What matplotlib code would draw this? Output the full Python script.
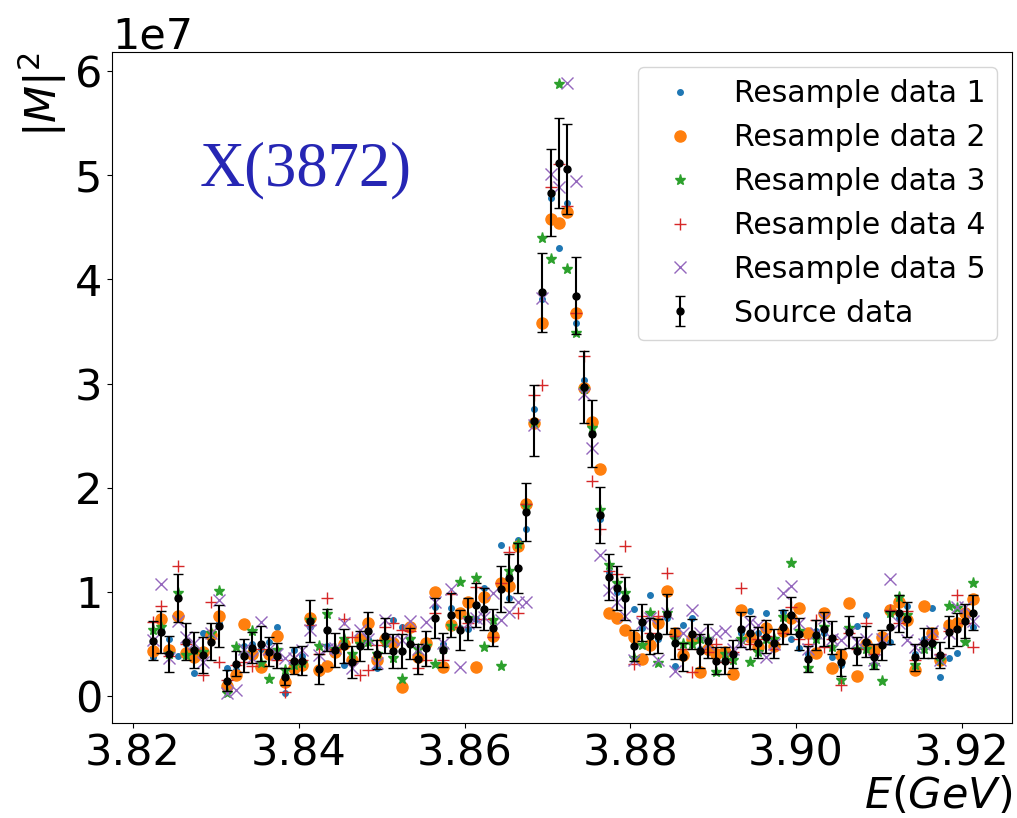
import matplotlib
matplotlib.use("Agg")
import matplotlib.pyplot as plt
import numpy as np

# energy bins (GeV): 100 bins, 1 MeV apart
E_START = 3.8224
E_STEP = 0.001
energy = np.round(E_START + E_STEP * np.arange(100), 4)

# |M|^2 values in units of 1e7
source = [
    0.531, 0.611, 0.403, 0.937, 0.521, 0.441, 0.393, 0.521, 0.672, 0.147,
    0.307, 0.387, 0.464, 0.502, 0.425, 0.384, 0.186, 0.339, 0.339, 0.720,
    0.259, 0.633, 0.441, 0.480, 0.326, 0.480, 0.627, 0.400, 0.579, 0.432,
    0.432, 0.502, 0.355, 0.457, 0.746, 0.440, 0.777, 0.633, 0.736, 0.870,
    0.832, 0.656, 1.030, 1.129, 1.228, 1.769, 2.642, 3.877, 4.834, 5.115,
    5.061, 3.845, 2.969, 2.520, 1.734, 1.139, 1.040, 0.937, 0.483, 0.707,
    0.576, 0.576, 0.787, 0.505, 0.377, 0.595, 0.432, 0.528, 0.339, 0.339,
    0.400, 0.640, 0.608, 0.512, 0.569, 0.505, 0.659, 0.774, 0.595, 0.355,
    0.585, 0.643, 0.560, 0.323, 0.611, 0.432, 0.521, 0.377, 0.489, 0.659,
    0.794, 0.736, 0.371, 0.505, 0.505, 0.393, 0.611, 0.640, 0.720, 0.800,
]
source_err = [
    0.19, 0.20, 0.17, 0.23, 0.18, 0.17, 0.17, 0.18, 0.20, 0.10,
    0.12, 0.16, 0.15, 0.17, 0.14, 0.12, 0.08, 0.13, 0.14, 0.20,
    0.14, 0.20, 0.16, 0.16, 0.15, 0.14, 0.18, 0.14, 0.17, 0.16,
    0.16, 0.15, 0.14, 0.17, 0.19, 0.16, 0.21, 0.19, 0.20, 0.21,
    0.20, 0.18, 0.22, 0.23, 0.24, 0.28, 0.34, 0.38, 0.42, 0.43,
    0.43, 0.37, 0.345, 0.32, 0.27, 0.22, 0.21, 0.21, 0.15, 0.18,
    0.17, 0.165, 0.19, 0.15, 0.135, 0.146, 0.16, 0.16, 0.13, 0.13,
    0.135, 0.167, 0.157, 0.146, 0.16, 0.136, 0.163, 0.176, 0.155, 0.123,
    0.147, 0.16, 0.16, 0.128, 0.155, 0.136, 0.147, 0.12, 0.144, 0.16,
    0.176, 0.168, 0.128, 0.144, 0.144, 0.128, 0.152, 0.157, 0.163, 0.166,
]

resample1 = [
    0.377, 0.640, 0.544, 0.387, 0.500, 0.218, 0.600, 0.550, 0.700, 0.272,
    0.250, 0.480, 0.500, 0.450, 0.521, 0.659, 0.030, 0.441, 0.380, 0.660,
    0.218, 0.480, 0.420, 0.298, 0.360, 0.500, 0.550, 0.266, 0.500, 0.729,
    0.665, 0.550, 0.400, 0.500, 0.850, 0.500, 0.848, 0.650, 0.640, 0.736,
    1.033, 0.620, 1.449, 0.937, 1.497, 1.600, 2.754, 3.807, 4.786, 4.302,
    4.734, 3.583, 3.033, 2.600, 1.700, 1.193, 1.000, 0.950, 0.832, 0.650,
    0.969, 0.550, 0.750, 0.291, 0.681, 0.746, 0.450, 0.420, 0.380, 0.360,
    0.380, 0.600, 0.816, 0.600, 0.794, 0.550, 0.810, 0.544, 0.457, 0.400,
    0.620, 0.600, 0.371, 0.300, 0.620, 0.672, 0.777, 0.300, 0.550, 0.521,
    0.750, 0.864, 0.400, 0.550, 0.848, 0.186, 0.362, 0.416, 0.750, 0.659,
]
resample2 = [
    0.432, 0.739, 0.441, 0.768, 0.410, 0.371, 0.420, 0.585, 0.768, 0.096,
    0.200, 0.688, 0.400, 0.275, 0.400, 0.576, 0.137, 0.266, 0.298, 0.746,
    0.250, 0.291, 0.425, 0.500, 0.345, 0.550, 0.704, 0.350, 0.550, 0.505,
    0.090, 0.659, 0.377, 0.505, 1.001, 0.281, 0.681, 0.794, 0.905, 0.275,
    0.953, 0.576, 1.081, 1.056, 1.440, 1.843, 2.617, 3.577, 4.581, 4.542,
    4.645, 3.673, 2.956, 2.630, 2.175, 0.794, 0.746, 0.633, 0.569, 0.352,
    0.489, 0.704, 1.005, 0.602, 0.393, 0.550, 0.233, 0.450, 0.400, 0.420,
    0.211, 0.825, 0.563, 0.473, 0.650, 0.480, 0.620, 0.746, 0.841, 0.602,
    0.410, 0.794, 0.266, 0.393, 0.896, 0.192, 0.500, 0.440, 0.569, 0.825,
    0.905, 0.729, 0.250, 0.864, 0.602, 0.345, 0.681, 0.700, 0.800, 0.928,
]
resample3 = [
    0.633, 0.659, 0.400, 0.991, 0.393, 0.440, 0.420, 0.600, 1.008, 0.026,
    0.473, 0.400, 0.627, 0.314, 0.163, 0.441, 0.250, 0.300, 0.320, 0.730,
    0.480, 0.787, 0.450, 0.550, 0.400, 0.500, 0.520, 0.400, 0.520, 0.362,
    0.160, 0.550, 0.450, 0.480, 0.307, 0.450, 0.672, 1.097, 0.750, 1.129,
    0.473, 0.729, 0.288, 1.203, 1.456, 1.820, 2.620, 4.402, 4.197, 5.880,
    4.095, 3.481, 2.950, 2.570, 1.785, 1.257, 1.080, 0.991, 0.362, 0.489,
    0.794, 0.314, 0.800, 0.550, 0.500, 0.500, 0.550, 0.550, 0.233, 0.400,
    0.350, 0.550, 0.330, 0.425, 0.550, 0.550, 0.755, 1.273, 0.620, 0.266,
    0.550, 0.660, 0.470, 0.154, 0.650, 0.450, 0.450, 0.298, 0.147, 0.800,
    0.947, 0.780, 0.300, 0.450, 0.500, 0.350, 0.864, 0.841, 0.521, 1.088,
]
resample4 = [
    0.713, 0.867, 0.380, 1.248, 0.500, 0.450, 0.200, 0.905, 0.330, 0.150,
    0.300, 0.330, 0.288, 0.450, 0.400, 0.345, 0.041, 0.350, 0.350, 0.681,
    0.400, 0.937, 0.450, 0.736, 0.569, 0.200, 0.250, 0.490, 0.659, 0.700,
    0.633, 0.620, 0.266, 0.350, 0.794, 0.350, 0.980, 0.665, 0.700, 1.049,
    0.736, 0.570, 1.080, 1.385, 0.794, 1.840, 2.889, 2.985, 4.888, 5.110,
    4.705, 3.680, 3.263, 2.063, 1.600, 1.200, 1.171, 1.440, 0.304, 0.771,
    0.600, 0.771, 1.183, 0.580, 0.450, 0.233, 0.450, 0.420, 0.500, 0.330,
    0.420, 1.033, 0.500, 0.550, 0.580, 0.450, 0.600, 0.857, 0.550, 0.500,
    0.729, 0.473, 0.550, 0.106, 0.600, 0.450, 0.697, 0.400, 0.500, 0.830,
    0.700, 0.820, 0.350, 0.500, 0.550, 0.400, 0.620, 0.969, 0.700, 0.473,
]
resample5 = [
    0.537, 1.075, 0.362, 0.720, 0.569, 0.508, 0.330, 0.600, 0.921, 0.026,
    0.058, 0.450, 0.362, 0.713, 0.450, 0.400, 0.362, 0.360, 0.441, 0.633,
    0.393, 0.450, 0.460, 0.697, 0.266, 0.633, 0.550, 0.314, 0.729, 0.550,
    0.537, 0.720, 0.450, 0.713, 0.905, 0.508, 1.024, 0.281, 0.700, 0.750,
    0.760, 0.985, 0.729, 0.809, 0.905, 0.905, 2.600, 3.826, 5.016, 4.888,
    5.890, 4.946, 2.900, 2.380, 1.353, 1.017, 0.900, 0.771, 0.345, 0.700,
    0.750, 0.345, 0.800, 0.243, 0.600, 0.825, 0.600, 0.500, 0.600, 0.620,
    0.450, 0.500, 0.713, 0.681, 0.377, 0.500, 0.985, 1.056, 0.697, 0.450,
    0.600, 0.750, 0.550, 0.540, 0.600, 0.520, 0.550, 0.350, 0.550, 1.120,
    0.700, 0.537, 0.473, 0.500, 0.620, 0.350, 0.600, 0.850, 0.857, 0.720,
]

scale = 1e7
resamples = [resample1, resample2, resample3, resample4, resample5]
styles = [
    dict(marker=".", ms=8, color="C0"),
    dict(marker="o", ms=8, color="C1"),
    dict(marker="*", ms=8, color="C2"),
    dict(marker="+", ms=8, color="C3"),
    dict(marker="x", ms=8, color="C4"),
]

fig = plt.figure(figsize=(10.17, 8.18), dpi=100)
ax = fig.add_axes([0.1104, 0.1161, 0.8850, 0.8199])

for k, (vals, st) in enumerate(zip(resamples, styles)):
    ax.plot(energy, np.array(vals) * scale, linestyle="none",
            label=f"Resample data {k + 1}", **st)

ax.errorbar(energy, np.array(source) * scale, yerr=np.array(source_err) * scale,
            fmt="o", color="black", ms=5, capsize=3.5, elinewidth=1.5,
            label="Source data")

ax.set_xlim(3.8175, 3.9261)
ax.set_ylim(-0.26e7, 6.18e7)
ax.set_xticks([3.82, 3.84, 3.86, 3.88, 3.90, 3.92])
ax.tick_params(labelsize=31)
ax.yaxis.get_offset_text().set_fontsize(31)

ax.set_xlabel("$E(GeV)$", fontsize=31, loc="right", labelpad=0)
ax.set_ylabel("$|M|^2$", fontsize=31, loc="top", labelpad=4)

ax.text(0.097, 0.802, "X(3872)", transform=ax.transAxes, fontsize=45,
        family="Liberation Serif", color="#2626b4", va="baseline")

ax.legend(loc="upper right", fontsize=21.5)

fig.savefig("out.png", dpi=100)
